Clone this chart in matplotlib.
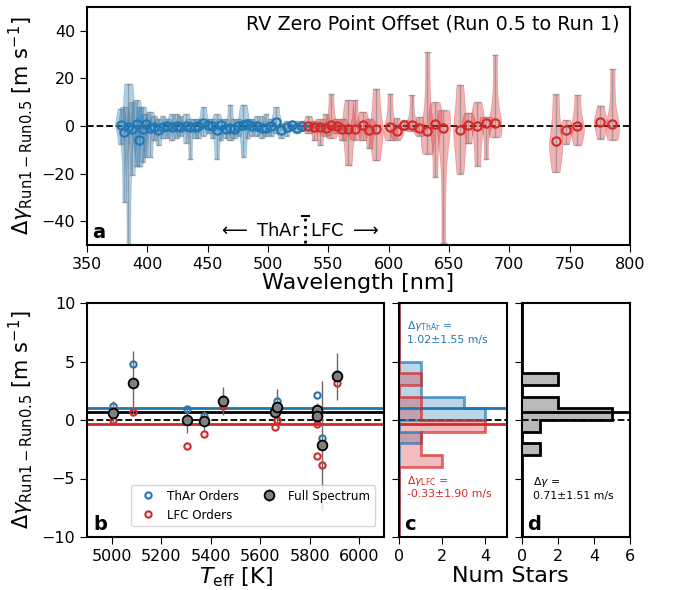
import numpy as np
import matplotlib.pyplot as plt

# ============================================
# 數據：面板 a（每個 order 的 RV 零點偏移）
# ============================================
thar_wl = [377.9, 380.9, 384.3, 387.6, 391.2, 393.4, 396.1, 398.6, 402.2, 405.5,
           409.1, 412.7, 416.6, 420.2, 424.3, 427.1, 432.0, 435.4, 439.5, 442.3,
           446.4, 450.5, 453.9, 457.5, 460.8, 464.9, 468.5, 471.8, 475.4, 479.6,
           482.9, 486.5, 490.6, 494.8, 498.3, 502.5, 506.6, 510.8, 515.5, 519.6,
           523.8, 527.9]
thar_off = [0.6, -2.5, -0.4, -1.1, 0.7, -5.7, -1.1, 0.7, -0.7, -0.4,
            -1.5, -0.4, -0.1, -0.4, 0.2, -0.4, -0.1, -0.4, -0.4, 0.2,
            1.3, 0.3, -0.1, -1.5, 0.3, -1.1, -0.7, -1.1, -0.1, 0.3,
            0.7, -0.1, -0.1, -0.7, -0.7, -0.1, 1.8, -1.8, -0.4, 0.3,
            -0.8, -0.1]
thar_lo = [-7.4, -32, -62, -20.6, -17, -17, -15, -13, -13, -6,
           -8, -5, -5, -6, -5, -4, -7, -14, -5, -5,
           -4, -3, -5, -14, -6, -5, -6, -5, -4, -13,
           -5, -4, -4, -5, -4, -4, -3, -5, -4, -2,
           -3, -2]
thar_hi = [7.3, 8, 17.8, 10, 11, 8, 8, 5, 6, 4,
           3, 4, 3, 5, 5, 4, 5, 3, 3, 3,
           8, 3, 3, 5, 3, 3, 9, 3, 3, 9,
           3, 3, 4, 4, 5, 3, 8, 1, 2, 2,
           2, 2]

lfc_wl = [533.4, 538.4, 543.1, 547.8, 552.2, 556.9, 561.6, 566.6, 572.1, 578.5,
          584.0, 589.5, 601.0, 606.6, 612.9, 619.0, 625.4, 632.0, 638.4, 645.3,
          659.0, 666.0, 673.5, 680.6, 688.0, 738.4, 747.0, 756.3, 775.4, 785.4]
lfc_off = [0.2, -0.4, -0.4, -0.7, 0.3, -0.1, -1.1, -1.1, -1.1, 0.4,
           -1.5, -1.3, -0.5, -2.2, 0.3, 0.3, -0.7, -1.9, 1.0, -1.0,
           -1.7, 0.4, 0.2, 1.3, 1.4, -6.3, -1.8, -0.1, 1.6, 1.0]
lfc_lo = [-3, -6, -8, -4, -5, -3, -6, -16.5, -5.7, -6,
          -9.4, -14.4, -6, -5.7, -1.5, -2, -4, -11.6, -21.4, -49,
          -20, -7.3, -16.6, -13.8, -4.6, -19.3, -7.5, -8, -5.3, -5.7]
lfc_hi = [4, 2, 3, 5, 13.6, 3, 3, 11, 11, 6,
          3, 15.7, 13.6, 3.2, 2.5, 13, 3.8, 31, 10, 6.6,
          17.4, 5.6, 10, 3.9, 30, 13.3, 2.6, 13, 8.6, 24]

# ============================================
# 數據：面板 b/c/d（每顆星）
# ============================================
teff = [5006, 5087, 5303, 5374, 5448, 5660, 5668, 5828, 5829, 5850, 5912]
full_off = [0.64, 3.19, 0.0, -0.05, 1.62, 0.7, 1.07, 0.87, 0.36, -2.16, 3.73]
full_err = [1.0, 2.7, 1.1, 0.8, 1.2, 0.5, 1.6, 0.6, 0.6, 5.5, 2.0]
thar_star = [1.2, 4.76, 0.96, 0.3, 1.8, 0.9, 1.65, 2.16, 0.8, -1.56, 3.9]
lfc_star = [-0.04, 0.7, -2.25, -1.19, 1.16, -0.56, -0.02, -3.1, -0.33, -3.85, 3.16]

mean_thar, std_thar = 1.02, 1.55
mean_lfc, std_lfc = -0.33, 1.90
mean_full, std_full = 0.71, 1.51

BLUE = '#1f77b4'
RED = '#d62728'

plt.rcParams['font.size'] = 11.5
plt.rcParams['xtick.major.size'] = 5
plt.rcParams['ytick.major.size'] = 5
plt.rcParams['axes.linewidth'] = 1.5

fig = plt.figure(figsize=(6.73, 5.9), dpi=100)
W, H = 673., 590.


def box(l, r, t, b):
    return [l / W, 1 - b / H, (r - l) / W, (b - t) / H]


ax_a = fig.add_axes(box(87, 630, 7, 245))
ax_b = fig.add_axes(box(87, 384, 303, 537))
ax_c = fig.add_axes(box(399, 507, 303, 537))
ax_d = fig.add_axes(box(521.7, 630, 303, 537))

# ---------------- 面板 a ----------------
def violins(ax, wl, off, lo, hi, color, width):
    # 以讀到的最小/中心/最大值組成每個 order 的樣本
    data = [[l, (l + o) / 2, o, o, (h + o) / 2, h] for l, o, h in zip(lo, off, hi)]
    parts = ax.violinplot(data, positions=wl, widths=width, showextrema=True,
                          bw_method=0.5)
    for body in parts['bodies']:
        body.set_facecolor(color)
        body.set_edgecolor(color)
        body.set_linewidth(0.5)
        body.set_alpha(0.35)
    for key in ('cbars', 'cmins', 'cmaxes'):
        parts[key].set_color('gray')
        parts[key].set_alpha(0.6)
        parts[key].set_linewidth(1.0)
    ax.plot(wl, off, 'o', mfc='none', mec=color, ms=6, mew=1.5, zorder=5)


ax_a.axhline(0, color='k', ls='--', lw=1.3, zorder=0)
violins(ax_a, thar_wl, thar_off, thar_lo, thar_hi, BLUE, 9)
violins(ax_a, lfc_wl, lfc_off, lfc_lo, lfc_hi, RED, 11)
ax_a.set_xlim(350, 800)
ax_a.set_ylim(-50, 50)
ax_a.set_xticks(np.arange(350, 801, 50))
ax_a.set_yticks([-40, -20, 0, 20, 40])
ax_a.set_xlabel('Wavelength [nm]', fontsize=16, labelpad=1)
ax_a.set_ylabel(r'$\Delta\gamma_{\rm Run1-Run0.5}$ [m s$^{-1}$]', fontsize=15)
ax_a.text(0.98, 0.93, 'RV Zero Point Offset (Run 0.5 to Run 1)', transform=ax_a.transAxes,
          ha='right', va='center', fontsize=13.8)
ax_a.text(0.01, 0.03, 'a', transform=ax_a.transAxes, fontsize=14, fontweight='bold')
ax_a.text(527, -44, r'$\longleftarrow$ ThAr', ha='right', va='center', fontsize=13)
ax_a.text(535, -44, r'LFC $\longrightarrow$', ha='left', va='center', fontsize=13)
ax_a.vlines(531, -49, -38, colors='k', linestyles=':', lw=2)
ax_a.hlines(-38, 527.5, 535, colors='k', lw=1.5)

# ---------------- 面板 b ----------------
for ax in (ax_b, ax_c):
    ax.axhline(mean_thar, color=BLUE, lw=2)
    ax.axhline(mean_lfc, color=RED, lw=2)
for ax in (ax_b, ax_d):
    ax.axhline(mean_full, color='k', lw=2)
for ax in (ax_b, ax_c, ax_d):
    ax.axhline(0, color='k', ls='--', lw=1.3)

ax_b.plot(teff, thar_star, 'o', mfc='none', mec=BLUE, ms=4.5, mew=1.5, label='ThAr Orders')
ax_b.plot(teff, lfc_star, 'o', mfc='none', mec=RED, ms=4.5, mew=1.5, label='LFC Orders')
ax_b.errorbar(teff, full_off, yerr=full_err, fmt='o', color='gray', mfc='gray', mec='k',
              ms=7, mew=1.3, ecolor='dimgray', elinewidth=1, label='Full Spectrum', zorder=4)
ax_b.set_xlim(4900, 6100)
ax_b.set_ylim(-10, 10)
ax_b.set_xticks([5000, 5200, 5400, 5600, 5800, 6000])
ax_b.set_yticks([-10, -5, 0, 5, 10])
ax_b.set_xlabel(r'$T_{\rm eff}$ [K]', fontsize=16, labelpad=1)
ax_b.set_ylabel(r'$\Delta\gamma_{\rm Run1-Run0.5}$ [m s$^{-1}$]', fontsize=15)
ax_b.legend(loc='lower right', ncol=2, fontsize=8.6, handletextpad=0.6,
            columnspacing=1.5, bbox_to_anchor=(0.99, 0.02))
ax_b.text(0.02, 0.03, 'b', transform=ax_b.transAxes, fontsize=14, fontweight='bold')

# ---------------- 面板 c / d ----------------
bins = np.arange(-10, 11, 1)
ax_c.hist(thar_star, bins=bins, orientation='horizontal', histtype='stepfilled',
          facecolor=BLUE, alpha=0.3)
ax_c.hist(thar_star, bins=bins, orientation='horizontal', histtype='step',
          edgecolor=BLUE, alpha=0.7, lw=2)
ax_c.hist(lfc_star, bins=bins, orientation='horizontal', histtype='stepfilled',
          facecolor=RED, alpha=0.3)
ax_c.hist(lfc_star, bins=bins, orientation='horizontal', histtype='step',
          edgecolor=RED, alpha=0.7, lw=2)
ax_d.hist(full_off, bins=bins, orientation='horizontal', histtype='stepfilled',
          facecolor='gray', alpha=0.55)
ax_d.hist(full_off, bins=bins, orientation='horizontal', histtype='step',
          edgecolor='k', lw=2)

ax_c.set_xlim(0, 5)
ax_c.set_xticks([0, 2, 4])
ax_d.set_xlim(0, 6)
ax_d.set_xticks([0, 2, 4, 6])
for ax in (ax_c, ax_d):
    ax.set_ylim(-10, 10)
    ax.set_yticks([-10, -5, 0, 5, 10])
    ax.set_yticklabels([])

ax_c.text(0.07, 0.93, r'$\Delta\gamma_{\rm ThAr}$ =' + '\n%.2f±%.2f m/s' % (mean_thar, std_thar),
          transform=ax_c.transAxes, ha='left', va='top', color=BLUE, fontsize=7.8)
ax_c.text(0.07, 0.27, r'$\Delta\gamma_{\rm LFC}$ =' + '\n%.2f±%.2f m/s' % (mean_lfc, std_lfc),
          transform=ax_c.transAxes, ha='left', va='top', color=RED, fontsize=7.8)
ax_d.text(0.1, 0.265, r'$\Delta\gamma$ =' + '\n%.2f±%.2f m/s' % (mean_full, std_full),
          transform=ax_d.transAxes, ha='left', va='top', color='k', fontsize=7.8)
ax_c.text(0.05, 0.03, 'c', transform=ax_c.transAxes, fontsize=14, fontweight='bold')
ax_d.text(0.05, 0.03, 'd', transform=ax_d.transAxes, fontsize=14, fontweight='bold')

fig.text(510 / W, 1 - 576 / H, 'Num Stars', ha='center', va='center', fontsize=16)

fig.savefig('out.png', dpi=100)
